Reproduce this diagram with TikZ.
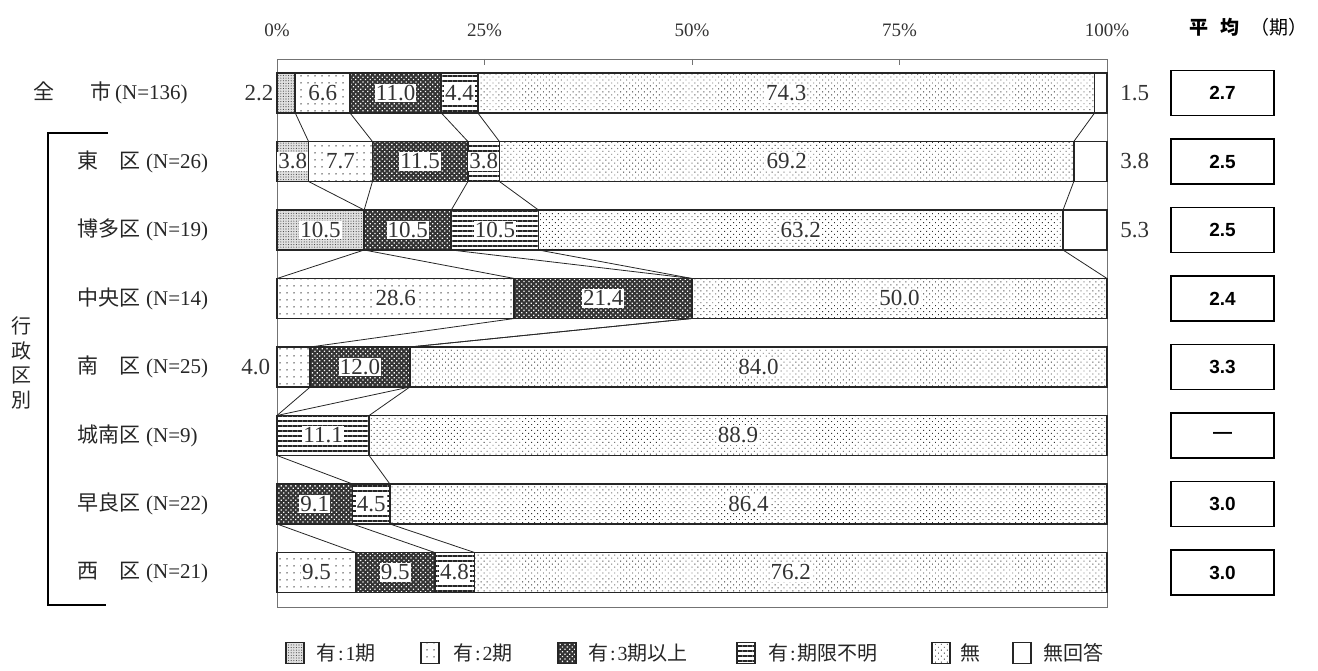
\documentclass[tikz,border=0pt]{standalone}
\usepackage{fontspec}
\setmainfont{Liberation Serif}
\newfontfamily\cjk{Noto Sans CJK JP}
\newfontfamily\sansb{Liberation Sans}
\usetikzlibrary{patterns.meta}
\newcommand\sgm[4]{\path[segline,#4] (#2,#1-20) rectangle (#3,#1+20);}
\newcommand\lab[5]{\node[vlab] (#1) at ({(#3+#4)/2},#2) {#5};}
\newcommand\bnd[7]{%
  \foreach \kk/\vv in {1/#3,2/#4,3/#5,4/#6,5/#7}{%
    \coordinate (#1-\kk t) at (\vv,#2-20);
    \coordinate (#1-\kk b) at (\vv,#2+20);}}
\begin{document}
\begin{tikzpicture}[x=1pt,y=-1pt,
  segline/.style={draw=black!85, line width=1.8pt},
  sA/.style={preaction={fill=black!12}, pattern={Dots[distance=2.6pt,radius=0.55pt]}, pattern color=black!75},
  sB/.style={preaction={fill=white}, pattern={Dots[distance=7pt,radius=0.75pt]}, pattern color=black!80},
  sC/.style={preaction={fill=black!80}, pattern={Dots[distance=3.4pt,radius=0.9pt,angle=45]}, pattern color=white},
  sD/.style={preaction={fill=white}, pattern={Lines[distance=5pt,line width=1.6pt]}, pattern color=black!85},
  sE/.style={preaction={fill=white}, pattern={Dots[distance=4.2pt,radius=0.65pt,angle=45]}, pattern color=black!80},
  sF/.style={fill=white},
  vlab/.style={fill=white, inner xsep=1pt, inner ysep=1.5pt, font=\fontsize{23}{25}\selectfont, text=black!80},
  olab/.style={inner sep=0pt, font=\fontsize{23}{25}\selectfont, text=black!80},
  axlab/.style={font=\fontsize{19}{21}\selectfont, text=black!80},
  rowlab/.style={anchor=west, inner sep=0pt, font=\fontsize{21}{24}\selectfont, text=black!85},
  frame/.style={draw=black!55, line width=0.9pt},
  conn/.style={draw=black!85, line width=0.8pt},
  brk/.style={draw=black, line width=2pt},
  avg/.style={draw=black, line width=1.5pt, minimum width=103pt, minimum height=45pt, inner sep=0pt, font=\sansb\bfseries\fontsize{19}{20}\selectfont},
  swatch/.style={draw=black!85, line width=1.3pt, minimum width=18pt, minimum height=21pt, inner sep=0pt},
  legtext/.style={anchor=west, inner sep=0pt, font=\fontsize{20}{22}\selectfont, text=black!85}]
\useasboundingbox (0,0) rectangle (1318,671);

% row labels
\node[rowlab] (n1) at (33,93) {{\cjk 全}\hspace{36pt}{\cjk 市}\hspace{4pt}(N=136)};
\node[rowlab] (n2) at (77,161.5) {{\cjk 東　区}\hspace{6pt}(N=26)};
\node[rowlab] (n3) at (77,230) {{\cjk 博多区}\hspace{6pt}(N=19)};
\node[rowlab] (n4) at (77,298.5) {{\cjk 中央区}\hspace{6pt}(N=14)};
\node[rowlab] (n5) at (77,367) {{\cjk 南　区}\hspace{6pt}(N=25)};
\node[rowlab] (n6) at (77,435.5) {{\cjk 城南区}\hspace{6pt}(N=9)};
\node[rowlab] (n7) at (77,504) {{\cjk 早良区}\hspace{6pt}(N=22)};
\node[rowlab] (n8) at (77,572.5) {{\cjk 西　区}\hspace{6pt}(N=21)};
\node[align=center, inner sep=0pt, font=\cjk\fontsize{20}{24.5}\selectfont, text=black!85] (gyo) at (21,363) {行\\政\\区\\別};
\draw[brk] (108,133) -- (48,133) -- (48,605) -- (106,605);

% header
\node[anchor=west, inner sep=0pt, font=\cjk\bfseries\fontsize{19}{20}\selectfont] (h1) at (1189,27) {平\hspace{12pt}均};
\node[anchor=west, inner sep=0pt, font=\cjk\fontsize{19}{20}\selectfont] (h2) at (1250,27) {（期）};

% average boxes
\node[avg] (a1) at (1222.5,93) {2.7};
\node[avg] (a2) at (1222.5,161.5) {2.5};
\node[avg] (a3) at (1222.5,230) {2.5};
\node[avg] (a4) at (1222.5,298.5) {2.4};
\node[avg] (a5) at (1222.5,367) {3.3};
\node[avg] (a6) at (1222.5,435.5) {—};
\node[avg] (a7) at (1222.5,504) {3.0};
\node[avg] (a8) at (1222.5,572.5) {3.0};

\begin{scope}[x=8.3pt, xshift=277pt]
  \draw[frame] (0,59) rectangle (100,607);
  \foreach \p in {25,50,75} \draw[frame] (\p,59) -- (\p,65);
  \node[axlab] (t0) at (0,30) {0\%};
  \node[axlab] (t25) at (25,30) {25\%};
  \node[axlab] (t50) at (50,30) {50\%};
  \node[axlab] (t75) at (75,30) {75\%};
  \node[axlab] (t100) at (100,30) {100\%};

  \bnd{r1}{93}{2.2}{8.8}{19.8}{24.2}{98.5}
  \bnd{r2}{161.5}{3.8}{11.5}{23.0}{26.8}{96.0}
  \bnd{r3}{230}{10.5}{10.5}{21.0}{31.5}{94.7}
  \bnd{r4}{298.5}{0}{28.6}{50}{50}{100}
  \bnd{r5}{367}{0}{4.0}{16.0}{16.0}{100}
  \bnd{r6}{435.5}{0}{0}{0}{11.1}{100}
  \bnd{r7}{504}{0}{0}{9.1}{13.6}{100}
  \bnd{r8}{572.5}{0}{9.5}{19.0}{23.8}{100}

  \foreach \kk in {1,...,5} {\draw[conn] (r1-\kk b) -- (r2-\kk t); \draw[conn] (r2-\kk b) -- (r3-\kk t); \draw[conn] (r3-\kk b) -- (r4-\kk t);}
  \foreach \kk in {2,3,4} \draw[conn] (r4-\kk b) -- (r5-\kk t);
  \foreach \kk in {2,3,4} \draw[conn] (r5-\kk b) -- (r6-\kk t);
  \foreach \kk in {3,4} \draw[conn] (r6-\kk b) -- (r7-\kk t);
  \foreach \kk in {2,3,4} \draw[conn] (r7-\kk b) -- (r8-\kk t);

  % row 1
  \sgm{93}{0}{2.2}{sA} \sgm{93}{2.2}{8.8}{sB} \sgm{93}{8.8}{19.8}{sC}
  \sgm{93}{19.8}{24.2}{sD} \sgm{93}{24.2}{98.5}{sE} \sgm{93}{98.5}{100}{sF}
  \lab{v12}{93}{2.2}{8.8}{6.6} \lab{v13}{93}{8.8}{19.8}{11.0}
  \lab{v14}{93}{19.8}{24.2}{4.4} \lab{v15}{93}{24.2}{98.5}{74.3}
  \node[olab, anchor=east] (v11) at (-0.4,93) {2.2};
  \node[olab, anchor=west] (v16) at (101.6,93) {1.5};
  % row 2
  \sgm{161.5}{0}{3.8}{sA} \sgm{161.5}{3.8}{11.5}{sB} \sgm{161.5}{11.5}{23.0}{sC}
  \sgm{161.5}{23.0}{26.8}{sD} \sgm{161.5}{26.8}{96.0}{sE} \sgm{161.5}{96.0}{100}{sF}
  \lab{v21}{161.5}{0}{3.8}{3.8} \lab{v22}{161.5}{3.8}{11.5}{7.7}
  \lab{v23}{161.5}{11.5}{23.0}{11.5} \lab{v24}{161.5}{23.0}{26.8}{3.8}
  \lab{v25}{161.5}{26.8}{96.0}{69.2}
  \node[olab, anchor=west] (v26) at (101.6,161.5) {3.8};
  % row 3
  \sgm{230}{0}{10.5}{sA} \sgm{230}{10.5}{21.0}{sC} \sgm{230}{21.0}{31.5}{sD}
  \sgm{230}{31.5}{94.7}{sE} \sgm{230}{94.7}{100}{sF}
  \lab{v31}{230}{0}{10.5}{10.5} \lab{v33}{230}{10.5}{21.0}{10.5}
  \lab{v34}{230}{21.0}{31.5}{10.5} \lab{v35}{230}{31.5}{94.7}{63.2}
  \node[olab, anchor=west] (v36) at (101.6,230) {5.3};
  % row 4
  \sgm{298.5}{0}{28.6}{sB} \sgm{298.5}{28.6}{50}{sC} \sgm{298.5}{50}{100}{sE}
  \lab{v42}{298.5}{0}{28.6}{28.6} \lab{v43}{298.5}{28.6}{50}{21.4}
  \lab{v45}{298.5}{50}{100}{50.0}
  % row 5
  \sgm{367}{0}{4.0}{sB} \sgm{367}{4.0}{16.0}{sC} \sgm{367}{16.0}{100}{sE}
  \lab{v53}{367}{4.0}{16.0}{12.0} \lab{v55}{367}{16.0}{100}{84.0}
  \node[olab, anchor=east] (v52) at (-0.8,367) {4.0};
  % row 6
  \sgm{435.5}{0}{11.1}{sD} \sgm{435.5}{11.1}{100}{sE}
  \lab{v64}{435.5}{0}{11.1}{11.1} \lab{v65}{435.5}{11.1}{100}{88.9}
  % row 7
  \sgm{504}{0}{9.1}{sC} \sgm{504}{9.1}{13.6}{sD} \sgm{504}{13.6}{100}{sE}
  \lab{v73}{504}{0}{9.1}{9.1} \lab{v74}{504}{9.1}{13.6}{4.5}
  \lab{v75}{504}{13.6}{100}{86.4}
  % row 8
  \sgm{572.5}{0}{9.5}{sB} \sgm{572.5}{9.5}{19.0}{sC} \sgm{572.5}{19.0}{23.8}{sD}
  \sgm{572.5}{23.8}{100}{sE}
  \lab{v82}{572.5}{0}{9.5}{9.5} \lab{v83}{572.5}{9.5}{19.0}{9.5}
  \lab{v84}{572.5}{19.0}{23.8}{4.8} \lab{v85}{572.5}{23.8}{100}{76.2}
\end{scope}

% legend
\node[swatch, sA] (lg1) at (295,653) {};
\node[legtext] (lt1) at (316,653) {{\cjk 有}\kern2pt:\kern2pt1{\cjk 期}};
\node[swatch, sB] (lg2) at (430,653) {};
\node[legtext] (lt2) at (453,653) {{\cjk 有}\kern2pt:\kern2pt2{\cjk 期}};
\node[swatch, sC] (lg3) at (567,653) {};
\node[legtext] (lt3) at (588,653) {{\cjk 有}\kern2pt:\kern2pt3{\cjk 期以上}};
\node[swatch, sD] (lg4) at (746,653) {};
\node[legtext] (lt4) at (768,653) {{\cjk 有}\kern2pt:\kern2pt{\cjk 期限不明}};
\node[swatch, sE] (lg5) at (941,653) {};
\node[legtext] (lt5) at (960,653) {{\cjk 無}};
\node[swatch, sF] (lg6) at (1022,653) {};
\node[legtext] (lt6) at (1043,653) {{\cjk 無回答}};
\end{tikzpicture}
\end{document}
